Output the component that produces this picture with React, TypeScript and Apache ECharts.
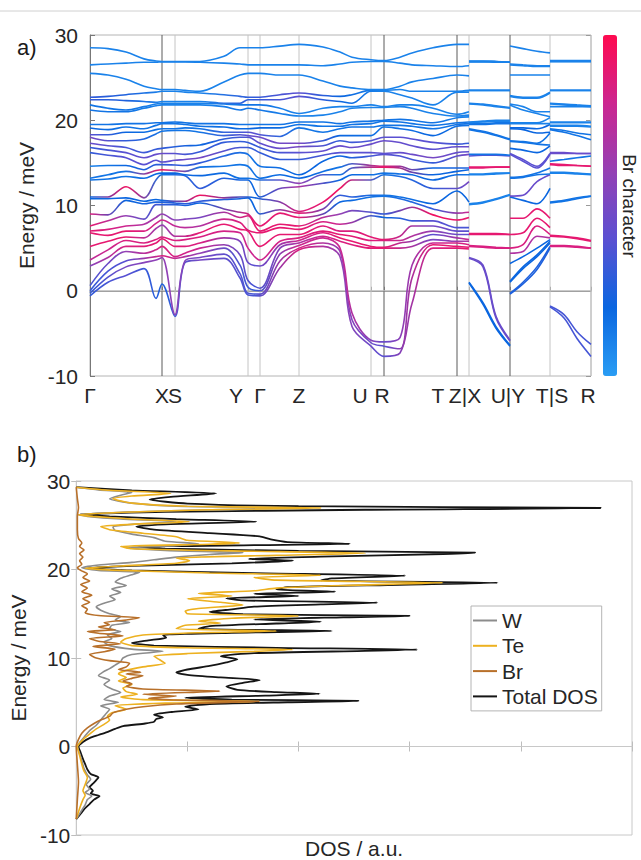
import React, { useEffect, useRef } from 'react';
import * as echarts from 'echarts';

// ---------- Band structure (top panel) ----------
// k-path positions (arbitrary distance units, Γ = 0)
const kNodesP1 = [0, 18, 36, 54, 66, 72, 85, 95, 110, 134, 150, 158, 170, 190, 209, 233, 250, 262, 281, 294, 310, 322, 343, 367, 379];
const kNodesP2 = [379, 393, 406, 420];
const kNodesP3 = [420, 433, 447, 460];
const kNodesP4 = [460, 474, 487, 501];

// energies (meV) of the 30 branches at each k node, sorted
const bandsP1: number[][] = [
  [-0.6, -0.3, 0.0, 0.6, 2.9, 3.6, 5.2, 6.8, 7.0, 7.6, 9.0, 10.8, 11.0, 13.0, 13.2, 14.6, 16.2, 16.8, 17.3, 18.0, 18.3, 19.1, 19.5, 21.2, 21.8, 22.4, 22.7, 25.5, 26.5, 28.5],
  [1.0, 1.6, 2.3, 3.2, 3.9, 4.8, 5.8, 6.5, 7.2, 8.2, 8.9, 10.8, 11.0, 13.1, 13.6, 14.7, 15.9, 16.5, 17.0, 17.6, 18.3, 18.9, 19.5, 21.0, 21.4, 22.4, 22.8, 25.3, 26.6, 28.4],
  [1.8, 2.8, 3.5, 4.6, 5.2, 5.9, 6.3, 7.0, 7.6, 8.8, 10.6, 10.9, 12.2, 13.4, 14.0, 14.7, 15.6, 16.2, 16.8, 17.6, 18.6, 19.2, 19.6, 21.0, 21.2, 22.3, 23.0, 24.8, 26.7, 28.0],
  [2.6, 3.3, 3.8, 4.4, 5.2, 5.6, 6.2, 7.0, 7.8, 8.4, 10.2, 10.5, 10.9, 13.2, 13.7, 14.2, 14.8, 15.6, 16.2, 17.8, 18.6, 19.0, 19.6, 21.4, 21.6, 22.2, 23.2, 24.0, 26.8, 27.2],
  [-0.9, 3.6, 4.0, 4.8, 5.6, 6.0, 7.3, 7.9, 8.6, 10.1, 10.4, 10.7, 13.0, 13.7, 14.1, 14.8, 15.3, 16.0, 16.6, 18.4, 18.9, 19.4, 19.7, 21.7, 21.9, 22.1, 23.3, 23.7, 26.8, 26.95],
  [0.8, 3.9, 4.1, 5.2, 6.1, 6.3, 7.7, 8.3, 9.0, 10.1, 10.4, 10.6, 13.6, 13.8, 14.2, 14.8, 15.1, 16.1, 16.7, 18.7, 19.0, 19.6, 19.7, 21.8, 22.0, 22.2, 23.4, 23.6, 26.85, 26.9],
  [-3.0, -2.8, 3.8, 4.0, 5.2, 5.9, 6.4, 7.6, 8.3, 10.1, 10.3, 10.5, 13.6, 13.8, 14.1, 14.75, 15.3, 16.1, 16.9, 18.8, 19.0, 19.6, 19.8, 21.8, 22.0, 22.2, 23.4, 23.6, 26.85, 26.9],
  [3.3, 3.5, 4.0, 4.4, 5.2, 6.0, 6.4, 7.4, 8.4, 10.0, 10.2, 10.5, 13.5, 13.6, 14.0, 14.7, 15.4, 16.0, 17.0, 18.8, 19.1, 19.5, 19.7, 21.8, 22.0, 22.2, 23.3, 23.5, 26.85, 26.9],
  [3.6, 3.9, 4.4, 5.0, 5.6, 6.3, 6.8, 7.6, 8.6, 10.3, 10.5, 11.2, 12.0, 13.5, 14.5, 15.0, 15.6, 16.3, 17.1, 18.6, 19.0, 19.3, 19.6, 21.8, 22.0, 22.2, 23.2, 23.4, 26.8, 26.9],
  [3.8, 4.3, 5.0, 5.4, 6.2, 7.0, 7.8, 8.4, 9.2, 9.6, 10.7, 10.9, 13.2, 13.8, 14.6, 15.8, 16.4, 17.4, 17.8, 18.2, 18.6, 19.2, 19.6, 21.6, 21.9, 22.0, 23.0, 24.5, 26.7, 27.5],
  [1.5, 2.0, 3.0, 4.2, 5.8, 6.8, 7.2, 8.0, 8.6, 9.2, 10.8, 11.0, 13.0, 13.2, 14.8, 16.2, 16.8, 17.5, 18.0, 18.3, 18.6, 19.0, 19.5, 21.2, 21.8, 22.0, 22.8, 25.3, 26.6, 28.5],
  [-0.5, -0.3, 0.4, 1.2, 3.3, 5.0, 7.0, 7.1, 8.8, 9.0, 10.9, 11.0, 13.0, 13.2, 14.6, 16.0, 16.8, 17.4, 18.0, 18.2, 18.6, 19.0, 19.5, 21.4, 21.8, 22.4, 22.7, 25.5, 26.5, 28.5],
  [-0.6, -0.4, 0.0, 0.3, 2.9, 3.6, 5.2, 6.8, 7.0, 7.6, 9.0, 10.8, 11.0, 13.0, 13.2, 14.6, 16.2, 16.8, 17.3, 18.0, 18.3, 19.1, 19.5, 21.2, 21.8, 22.4, 22.7, 25.5, 26.5, 28.5],
  [2.7, 3.5, 4.3, 5.0, 5.4, 5.8, 6.6, 7.4, 7.8, 9.1, 9.5, 10.4, 12.0, 13.0, 13.6, 14.4, 15.4, 16.2, 16.7, 17.3, 18.1, 19.1, 19.5, 20.8, 21.4, 22.4, 23.0, 25.3, 26.5, 28.7],
  [4.8, 5.0, 5.3, 5.6, 5.9, 6.2, 6.6, 7.2, 7.6, 8.6, 9.1, 9.3, 12.2, 12.6, 13.2, 13.6, 15.4, 16.2, 16.9, 17.3, 19.1, 19.5, 19.8, 20.5, 20.8, 22.8, 23.2, 25.3, 26.5, 28.9],
  [5.2, 5.6, 6.2, 6.4, 6.8, 7.0, 7.6, 8.1, 8.6, 9.0, 9.6, 10.4, 12.6, 13.6, 14.0, 15.2, 15.9, 16.4, 17.0, 17.6, 18.6, 19.3, 19.8, 20.6, 21.4, 22.4, 22.9, 24.6, 26.4, 28.6],
  [4.0, 4.6, 5.0, 5.8, 6.2, 6.6, 7.0, 7.8, 9.0, 10.4, 11.2, 12.0, 13.0, 13.6, 14.5, 15.8, 16.2, 17.0, 17.6, 18.2, 19.0, 19.3, 19.6, 21.0, 21.6, 22.2, 22.8, 24.0, 26.6, 28.0],
  [-4.2, -3.4, -2.6, 5.4, 5.8, 6.4, 7.0, 8.0, 9.4, 10.6, 11.0, 13.0, 13.6, 14.4, 14.9, 15.6, 16.2, 16.8, 17.4, 18.2, 19.2, 19.5, 19.8, 21.4, 21.6, 22.0, 23.0, 23.8, 26.8, 27.4],
  [-6.5, -6.1, -5.8, 5.0, 5.2, 5.9, 6.3, 8.8, 9.2, 11.0, 11.2, 13.0, 13.6, 14.5, 14.7, 15.8, 16.2, 17.2, 17.6, 18.2, 19.2, 19.6, 19.9, 21.5, 21.8, 23.4, 23.5, 23.6, 26.9, 27.1],
  [-7.7, -6.5, -6.0, 5.0, 5.1, 5.9, 6.0, 8.6, 9.0, 11.1, 11.2, 13.6, 13.8, 14.5, 14.6, 16.0, 16.1, 17.6, 18.0, 19.2, 19.4, 19.9, 20.0, 21.5, 21.6, 23.4, 23.5, 23.6, 26.9, 27.0],
  [-7.3, -6.8, -5.5, 5.0, 5.6, 5.9, 6.4, 8.5, 9.4, 10.8, 11.0, 13.4, 13.7, 14.4, 14.6, 15.8, 16.2, 17.4, 18.0, 19.0, 19.4, 19.8, 20.1, 21.6, 21.8, 23.0, 23.6, 24.0, 26.7, 27.4],
  [-1.5, 1.5, 3.0, 5.2, 5.8, 6.4, 7.6, 8.2, 9.8, 10.4, 10.7, 13.0, 13.6, 13.9, 14.2, 15.4, 16.0, 17.0, 17.8, 18.8, 19.3, 19.6, 20.0, 21.4, 21.8, 22.6, 23.4, 24.5, 26.5, 27.9],
  [5.0, 5.4, 5.6, 6.0, 6.6, 7.0, 7.6, 8.2, 8.9, 9.6, 10.2, 12.0, 13.0, 13.6, 14.4, 15.0, 15.6, 16.6, 17.4, 18.2, 19.0, 19.4, 19.7, 20.8, 21.4, 21.8, 23.4, 24.9, 26.4, 28.5],
  [5.0, 5.2, 5.6, 5.8, 6.2, 6.6, 7.0, 7.4, 8.3, 9.1, 11.7, 12.0, 13.6, 14.0, 14.4, 15.8, 16.2, 16.9, 17.2, 19.3, 19.5, 19.7, 20.3, 20.5, 20.7, 23.3, 23.4, 25.3, 26.3, 28.9],
  [4.9, 5.1, 5.4, 5.8, 6.0, 6.6, 7.0, 7.4, 8.6, 9.2, 10.4, 12.8, 13.6, 14.2, 14.4, 16.0, 16.3, 16.9, 17.3, 19.4, 19.6, 19.8, 20.4, 20.6, 21.0, 23.3, 23.5, 25.2, 26.4, 28.9],
];
const bandsP2: number[][] = [
  [0.9, 1.0, 3.8, 3.9, 5.2, 5.3, 6.6, 6.7, 10.1, 10.2, 13.6, 13.7, 14.4, 14.5, 15.8, 16.0, 18.9, 19.0, 19.5, 19.6, 19.7, 19.8, 21.9, 22.0, 23.5, 23.5, 26.85, 26.9, 26.9, 26.95],
  [-1.6, -1.4, 2.8, 3.0, 5.1, 5.2, 6.6, 6.7, 10.3, 10.4, 13.6, 13.7, 14.4, 14.5, 15.9, 16.0, 18.6, 18.7, 19.5, 19.6, 19.8, 19.9, 21.8, 21.9, 23.5, 23.5, 26.85, 26.9, 26.9, 26.95],
  [-4.4, -4.2, -3.2, -3.0, 5.0, 5.1, 6.6, 6.7, 10.7, 10.8, 13.7, 13.8, 14.5, 14.5, 15.9, 16.0, 18.2, 18.3, 19.6, 19.7, 19.9, 20.0, 21.6, 21.7, 23.5, 23.5, 26.8, 26.85, 26.9, 26.9],
  [-6.5, -6.4, -5.9, -5.8, 5.0, 5.0, 6.6, 6.6, 11.2, 11.3, 13.8, 13.8, 14.5, 14.5, 15.8, 15.9, 17.7, 17.8, 19.6, 19.7, 19.9, 20.0, 21.4, 21.5, 23.5, 23.5, 26.8, 26.8, 26.8, 26.8],
];
const bandsP3: number[][] = [
  [-0.4, -0.3, 1.0, 1.1, 3.2, 4.4, 5.0, 6.6, 8.5, 11.0, 11.1, 13.2, 13.3, 16.0, 16.1, 16.7, 17.5, 17.6, 19.0, 19.1, 19.6, 19.7, 21.8, 21.9, 22.8, 22.9, 25.3, 26.5, 26.6, 28.7],
  [0.8, 1.0, 2.6, 2.8, 4.0, 4.6, 5.4, 6.8, 8.5, 10.6, 11.2, 13.3, 13.4, 15.2, 15.4, 16.5, 17.4, 17.5, 18.9, 19.1, 19.6, 19.7, 21.2, 21.6, 22.6, 22.7, 25.3, 26.4, 26.5, 28.4],
  [2.5, 2.8, 4.0, 4.2, 5.0, 6.4, 7.6, 8.5, 9.6, 10.2, 12.8, 13.6, 13.8, 14.4, 14.6, 16.2, 17.2, 17.3, 18.5, 19.0, 19.6, 19.7, 20.8, 21.0, 22.6, 22.7, 25.3, 26.3, 26.4, 28.1],
  [5.0, 5.2, 5.6, 5.8, 6.0, 6.2, 6.6, 7.4, 8.5, 12.0, 13.6, 13.7, 14.4, 16.0, 16.1, 17.0, 17.1, 18.5, 18.6, 19.5, 19.6, 20.3, 20.4, 21.0, 23.2, 23.3, 25.3, 26.3, 26.4, 27.9],
];
const bandsP4: number[][] = [
  [-1.9, -1.8, 5.2, 5.3, 6.4, 6.5, 10.3, 10.4, 13.8, 13.9, 14.8, 14.9, 15.2, 16.1, 16.2, 18.9, 19.0, 19.3, 19.4, 19.7, 19.8, 21.6, 21.9, 22.0, 23.5, 23.5, 26.9, 26.9, 26.9, 27.0],
  [-3.2, -2.8, 5.2, 5.3, 6.3, 6.4, 10.5, 10.6, 13.8, 13.9, 14.7, 14.8, 15.4, 16.1, 16.2, 18.6, 18.8, 19.3, 19.4, 19.7, 19.8, 21.6, 21.8, 21.9, 23.5, 23.5, 26.9, 26.9, 26.9, 27.0],
  [-5.6, -4.8, 5.1, 5.2, 6.1, 6.2, 10.8, 10.9, 13.7, 13.8, 14.7, 14.7, 15.6, 16.1, 16.1, 18.2, 18.5, 19.3, 19.4, 19.7, 19.8, 21.6, 21.7, 21.8, 23.5, 23.5, 26.9, 26.9, 26.9, 27.0],
  [-7.7, -6.3, 5.0, 5.0, 5.8, 5.9, 11.1, 11.1, 13.6, 13.7, 14.6, 14.6, 15.8, 16.1, 16.1, 17.7, 18.3, 19.2, 19.3, 19.7, 19.8, 21.6, 21.6, 21.7, 23.5, 23.5, 26.9, 26.9, 26.9, 27.0],
];

// Br character (0 = none, 1 = pure Br) of the 30 branches at anchor k positions of the first path piece
const brAnchorsP1 = [0, 36, 72, 110, 164, 209, 250, 294, 343, 379];
const brP1: number[][] = [
  [0.3, 0.3, 0.3, 0.35, 0.55, 0.75, 0.9, 0.9, 0.9, 0.9, 0.85, 0.2, 0.2, 0.15, 0.15, 0.1, 0.3, 0.3, 0.45, 0.5, 0.4, 0.2, 0.15, 0.15, 0.15, 0.3, 0.3, 0.1, 0.1, 0.1],
  [0.4, 0.5, 0.4, 0.6, 0.85, 0.85, 0.9, 0.9, 0.8, 0.6, 0.2, 0.2, 0.95, 0.15, 0.15, 0.2, 0.4, 0.4, 0.35, 0.3, 0.2, 0.15, 0.15, 0.15, 0.15, 0.25, 0.25, 0.1, 0.1, 0.1],
  [0.25, 0.6, 0.85, 0.85, 0.9, 0.85, 0.6, 0.8, 0.6, 0.3, 0.25, 0.2, 0.15, 0.2, 0.95, 0.3, 0.4, 0.45, 0.3, 0.15, 0.15, 0.15, 0.15, 0.1, 0.1, 0.1, 0.1, 0.1, 0.1, 0.1],
  [0.5, 0.5, 0.6, 0.8, 0.85, 0.85, 0.9, 0.7, 0.5, 0.2, 0.3, 0.95, 0.3, 0.2, 0.15, 0.3, 0.5, 0.3, 0.2, 0.15, 0.15, 0.15, 0.15, 0.1, 0.1, 0.1, 0.1, 0.1, 0.1, 0.1],
  [0.35, 0.35, 0.3, 0.35, 0.4, 0.8, 0.9, 0.9, 0.9, 0.9, 0.2, 0.2, 0.2, 0.15, 0.15, 0.15, 0.3, 0.3, 0.4, 0.45, 0.4, 0.2, 0.15, 0.15, 0.15, 0.3, 0.3, 0.1, 0.1, 0.1],
  [0.85, 0.85, 0.8, 0.7, 0.8, 0.85, 0.9, 0.9, 0.9, 0.9, 0.9, 0.85, 0.7, 0.6, 0.2, 0.2, 0.3, 0.4, 0.5, 0.5, 0.15, 0.15, 0.15, 0.1, 0.1, 0.4, 0.4, 0.1, 0.1, 0.1],
  [0.6, 0.6, 0.8, 0.85, 0.9, 0.9, 0.85, 0.8, 0.6, 0.2, 0.3, 0.95, 0.2, 0.15, 0.15, 0.2, 0.4, 0.45, 0.3, 0.2, 0.15, 0.15, 0.15, 0.1, 0.1, 0.2, 0.2, 0.1, 0.1, 0.1],
  [0.4, 0.4, 0.45, 0.9, 0.9, 0.85, 0.9, 0.2, 0.3, 0.15, 0.15, 0.15, 0.15, 0.95, 0.9, 0.4, 0.4, 0.45, 0.4, 0.15, 0.15, 0.15, 0.15, 0.1, 0.1, 0.1, 0.1, 0.1, 0.1, 0.1],
  [0.85, 0.9, 0.8, 0.5, 0.4, 0.6, 0.5, 0.4, 0.95, 0.3, 0.2, 0.3, 0.2, 0.2, 0.2, 0.3, 0.5, 0.4, 0.4, 0.2, 0.15, 0.15, 0.15, 0.1, 0.1, 0.1, 0.1, 0.1, 0.1, 0.1],
  [0.9, 0.9, 0.85, 0.7, 0.8, 0.4, 0.4, 0.35, 0.9, 0.8, 0.2, 0.5, 0.15, 0.2, 0.25, 0.5, 0.4, 0.45, 0.3, 0.15, 0.15, 0.15, 0.1, 0.1, 0.1, 0.1, 0.1, 0.1, 0.1, 0.1],
];
const brP2 = [0.2, 0.2, 0.45, 0.45, 0.85, 0.85, 0.9, 0.9, 0.1, 0.1, 0.1, 0.1, 0.9, 0.9, 0.4, 0.15, 0.15, 0.15, 0.15, 0.15, 0.1, 0.1, 0.1, 0.1, 0.1, 0.1, 0.1, 0.1, 0.1, 0.1];
const brP3 = [0.25, 0.25, 0.2, 0.2, 0.2, 0.7, 0.85, 0.9, 0.9, 0.2, 0.45, 0.15, 0.15, 0.4, 0.4, 0.2, 0.15, 0.15, 0.2, 0.2, 0.1, 0.1, 0.1, 0.1, 0.1, 0.1, 0.1, 0.1, 0.1, 0.1];
const brP4 = [0.35, 0.35, 0.85, 0.85, 0.9, 0.9, 0.15, 0.15, 0.1, 0.1, 0.9, 0.9, 0.15, 0.45, 0.45, 0.15, 0.15, 0.1, 0.1, 0.1, 0.1, 0.1, 0.1, 0.1, 0.1, 0.1, 0.1, 0.1, 0.1, 0.1];

const brColors = ['#2a9df4', '#0a66e0', '#5a50d2', '#9440b4', '#cc2690', '#ff0a50'];

// high-symmetry points
const kLines = [72, 85, 158, 170, 209, 281, 294, 367, 379, 420, 460, 501];
const kLineDark = [true, false, false, false, false, false, true, true, false, true, false, false];
const kLabelPos = [0, 72, 85, 146, 170, 209, 270, 292, 348, 375, 418, 462, 498];
const kLabelText = ['Γ', 'X', 'S', 'Y', 'Γ', 'Z', 'U', 'R', 'T', 'Z|X', 'U|Y', 'T|S', 'R'];

// ---------- DOS (bottom panel): [energy meV, DOS a.u.] ----------
const totalDOS: number[][] = [
  [-8.2, 0], [-7.6, 0.04], [-7.1, 0.07], [-6.5, 0.12], [-6.0, 0.16], [-5.6, 0.21], [-5.3, 0.13], [-5.0, 0.15], [-4.6, 0.12], [-4.2, 0.15], [-3.8, 0.18], [-3.5, 0.2], [-3.1, 0.13], [-2.6, 0.1], [-2.0, 0.08], [-1.4, 0.06], [-0.7, 0.04], [0, 0.02],
  [0.5, 0.06], [0.95, 0.12], [1.3, 0.2], [1.6, 0.27], [2.0, 0.35], [2.3, 0.42], [2.6, 0.62], [2.8, 0.7], [3.1, 0.72], [3.3, 0.78], [3.6, 0.7], [3.9, 0.86], [4.2, 1.1], [4.5, 0.98], [4.8, 1.2], [5.0, 1.9], [5.15, 2.54], [5.3, 1.4], [5.5, 0.98],
  [5.75, 1.7], [5.95, 2.19], [6.15, 1.8], [6.4, 1.45], [6.8, 1.35], [7.2, 1.5], [7.5, 1.65], [7.8, 1.3], [8.1, 1.0], [8.35, 0.9], [8.7, 1.0], [9.1, 1.2], [9.5, 1.35], [9.85, 1.45], [10.2, 1.3], [10.55, 1.6], [10.8, 2.6], [10.95, 3.07],
  [11.15, 1.8], [11.4, 0.7], [11.7, 0.5], [12.0, 0.65], [12.3, 0.81], [12.6, 0.78], [12.85, 1.4], [13.05, 2.3], [13.3, 1.1], [13.6, 1.2], [13.9, 1.8], [14.1, 2.2], [14.35, 1.6], [14.6, 2.4], [14.75, 3.0], [14.95, 1.5], [15.2, 1.2],
  [15.5, 1.4], [15.8, 1.6], [16.05, 2.2], [16.25, 2.71], [16.5, 1.5], [16.75, 1.35], [17.0, 2.0], [17.25, 1.6], [17.5, 2.33], [17.75, 1.8], [18.0, 1.9], [18.25, 2.8], [18.5, 3.79], [18.75, 2.2], [19.0, 2.3], [19.3, 2.96], [19.6, 1.6],
  [19.9, 0.5], [20.15, 0.1], [20.4, 0.5], [20.7, 1.4], [21.0, 1.95], [21.2, 1.55], [21.45, 2.2], [21.75, 3.3], [21.9, 3.59], [22.1, 2.0], [22.35, 0.8], [22.55, 0.56], [22.75, 1.6], [22.9, 2.46], [23.1, 1.9], [23.4, 1.75], [23.75, 1.65],
  [24.1, 1.2], [24.5, 0.7], [24.85, 0.54], [25.1, 0.8], [25.4, 1.62], [25.7, 0.9], [26.0, 0.3], [26.2, 0.03], [26.5, 0.8], [26.75, 2.6], [26.95, 4.72], [27.15, 2.0], [27.45, 1.0], [27.9, 0.66], [28.2, 0.85], [28.6, 1.26], [28.95, 0.5], [29.3, 0],
];
const teDOS: number[][] = [
  [-8.2, 0], [-7, 0.03], [-6, 0.06], [-5.5, 0.08], [-5, 0.06], [-4.3, 0.08], [-3.5, 0.1], [-2.8, 0.07], [-2, 0.05], [-1, 0.03], [0, 0.01], [0.5, 0.04], [1, 0.08], [1.5, 0.13], [2, 0.18], [2.5, 0.25], [3, 0.3], [3.4, 0.28], [3.8, 0.32],
  [4.2, 0.45], [4.6, 0.35], [4.9, 0.8], [5.1, 1.65], [5.3, 0.6], [5.6, 0.4], [5.9, 0.55], [6.2, 0.45], [6.6, 0.42], [7.0, 0.5], [7.4, 0.38], [7.8, 0.45], [8.2, 0.38], [8.6, 0.45], [9.0, 0.6], [9.4, 0.8], [9.8, 0.75], [10.2, 0.7],
  [10.5, 1.0], [10.75, 1.6], [10.95, 1.95], [11.15, 1.0], [11.4, 0.5], [11.8, 0.4], [12.2, 0.45], [12.6, 0.6], [12.85, 1.1], [13.05, 1.8], [13.3, 0.9], [13.7, 0.98], [13.95, 1.3], [14.15, 1.1], [14.5, 1.4], [14.75, 2.0], [15.0, 1.0],
  [15.3, 0.98], [15.6, 1.1], [16.0, 1.5], [16.3, 1.3], [16.7, 1.0], [17.0, 1.4], [17.3, 1.1], [17.6, 1.6], [17.9, 1.8], [18.2, 2.4], [18.5, 3.3], [18.8, 1.8], [19.1, 1.6], [19.35, 2.2], [19.6, 1.2], [19.9, 0.4], [20.15, 0.08],
  [20.4, 0.4], [20.7, 0.9], [21.0, 1.02], [21.3, 0.9], [21.6, 1.8], [21.85, 2.6], [22.1, 1.4], [22.35, 0.5], [22.6, 0.4], [22.85, 1.2], [23.0, 1.47], [23.3, 1.0], [23.7, 0.9], [24.1, 0.6], [24.5, 0.3], [24.85, 0.22], [25.1, 0.5],
  [25.4, 1.02], [25.7, 0.5], [26.0, 0.15], [26.2, 0.02], [26.5, 0.5], [26.75, 1.2], [26.95, 2.2], [27.15, 1.0], [27.5, 0.5], [28.0, 0.33], [28.3, 0.5], [28.6, 0.85], [28.95, 0.3], [29.3, 0],
];
const wDOS: number[][] = [
  [-8.2, 0], [-7.4, 0.04], [-6.6, 0.08], [-6.0, 0.1], [-5.6, 0.14], [-5.2, 0.08], [-4.8, 0.12], [-4.3, 0.09], [-3.7, 0.13], [-3.2, 0.1], [-2.5, 0.07], [-1.6, 0.05], [-0.8, 0.03], [0, 0.01], [0.6, 0.04], [1.2, 0.08], [1.8, 0.12],
  [2.4, 0.18], [3.0, 0.22], [3.6, 0.26], [4.2, 0.3], [4.6, 0.22], [5.0, 0.38], [5.3, 0.25], [5.7, 0.3], [6.1, 0.4], [6.5, 0.32], [7.0, 0.25], [7.5, 0.3], [8.0, 0.2], [8.4, 0.24], [8.8, 0.3], [9.2, 0.35], [9.6, 0.4], [10.0, 0.42],
  [10.4, 0.5], [10.75, 0.78], [11.0, 0.5], [11.4, 0.3], [11.8, 0.25], [12.2, 0.32], [12.6, 0.28], [13.0, 0.4], [13.3, 0.3], [13.7, 0.32], [14.0, 0.48], [14.3, 0.35], [14.7, 0.4], [15.0, 0.3], [15.4, 0.22], [15.8, 0.18], [16.2, 0.25],
  [16.6, 0.35], [17.0, 0.3], [17.4, 0.4], [17.8, 0.32], [18.2, 0.45], [18.6, 0.35], [19.0, 0.4], [19.4, 0.5], [19.7, 0.57], [19.9, 0.2], [20.2, 0.05], [20.5, 0.2], [20.8, 0.5], [21.1, 0.7], [21.4, 0.9], [21.7, 1.2], [21.9, 1.5],
  [22.15, 0.8], [22.45, 0.45], [22.7, 0.9], [22.9, 1.1], [23.2, 0.8], [23.6, 0.7], [24.0, 0.5], [24.4, 0.35], [24.8, 0.33], [25.1, 0.5], [25.4, 0.9], [25.7, 0.4], [26.0, 0.1], [26.2, 0.02], [26.5, 0.5], [26.75, 1.2], [26.95, 2.0],
  [27.15, 0.9], [27.5, 0.5], [28.0, 0.3], [28.4, 0.4], [28.7, 0.5], [29.0, 0.2], [29.3, 0],
];
const brDOS: number[][] = [
  [-8.2, 0], [-6, 0.01], [-4, 0.02], [-2, 0.01], [0, 0.0], [0.8, 0.02], [1.5, 0.05], [2.1, 0.1], [2.6, 0.16], [3.0, 0.22], [3.4, 0.3], [3.8, 0.33], [4.2, 0.45], [4.5, 0.6], [4.8, 0.9], [5.0, 1.4], [5.1, 1.65], [5.25, 0.9],
  [5.45, 0.65], [5.7, 0.9], [5.9, 0.6], [6.25, 1.29], [6.5, 0.6], [6.8, 0.45], [7.1, 0.5], [7.4, 0.42], [7.7, 0.5], [8.0, 0.6], [8.2, 0.45], [8.4, 0.58], [8.7, 0.38], [9.0, 0.45], [9.4, 0.48], [9.7, 0.3], [10.0, 0.18], [10.4, 0.12],
  [10.7, 0.25], [11.0, 0.35], [11.3, 0.15], [11.6, 0.4], [11.9, 0.2], [12.2, 0.12], [12.5, 0.42], [12.8, 0.2], [13.0, 0.1], [13.2, 0.35], [13.5, 0.2], [13.75, 0.3], [14.0, 0.25], [14.3, 0.45], [14.55, 0.57], [14.8, 0.2], [15.1, 0.08],
  [15.5, 0.1], [15.9, 0.05], [16.3, 0.12], [16.7, 0.06], [17.1, 0.14], [17.5, 0.05], [17.9, 0.1], [18.3, 0.04], [18.7, 0.12], [19.1, 0.06], [19.5, 0.1], [19.9, 0.04], [20.2, 0.01], [20.6, 0.05], [21.0, 0.03], [21.4, 0.06], [21.8, 0.03],
  [22.2, 0.07], [22.6, 0.03], [23.0, 0.05], [23.5, 0.02], [24.5, 0.01], [26, 0.01], [27, 0.02], [28, 0.01], [29.3, 0],
];

const FONT = '"Liberation Sans", Arial, Helvetica, sans-serif';

function hexToRgb(h: string) {
  const n = parseInt(h.slice(1), 16);
  return [(n >> 16) & 255, (n >> 8) & 255, n & 255];
}
function brColor(v: number) {
  const t = Math.max(0, Math.min(1, v)) * (brColors.length - 1);
  const i = Math.min(Math.floor(t), brColors.length - 2);
  const f = t - i;
  const a = hexToRgb(brColors[i]);
  const b = hexToRgb(brColors[i + 1]);
  const c = a.map((x, j) => Math.round(x + (b[j] - x) * f));
  return `rgb(${c[0]},${c[1]},${c[2]})`;
}

function buildOption() {
  const series: any[] = [];
  const nb = bandsP1[0].length;

  // high-symmetry vertical lines
  kLines.forEach((k, i) => {
    series.push({
      type: 'line', xAxisIndex: 0, yAxisIndex: 0, silent: true, symbol: 'none', z: 1,
      data: [[k, -10], [k, 30]],
      lineStyle: { color: kLineDark[i] ? '#5a5a5a' : '#c4c4c4', width: 1 },
    });
  });
  series.push({
    type: 'line', xAxisIndex: 0, yAxisIndex: 0, silent: true, symbol: 'none', z: 1,
    data: [[0, 0], [501, 0]], lineStyle: { color: '#b8b8b8', width: 1 },
  });

  const k0 = kNodesP1[0];
  const k1 = kNodesP1[kNodesP1.length - 1];
  for (let b = 0; b < nb; b++) {
    const stops = brAnchorsP1.map((k, j) => ({ offset: (k - k0) / (k1 - k0), color: brColor(brP1[j][b]) }));
    series.push({
      type: 'line', xAxisIndex: 0, yAxisIndex: 0, silent: true, symbol: 'none', z: 3, smooth: 0.35,
      data: kNodesP1.map((k, i) => [k, bandsP1[i][b]]),
      lineStyle: { width: 1.6, color: new echarts.graphic.LinearGradient(0, 0, 1, 0, stops) },
    });
    const pieces: [number[], number[][], number[]][] = [
      [kNodesP2, bandsP2, brP2],
      [kNodesP3, bandsP3, brP3],
      [kNodesP4, bandsP4, brP4],
    ];
    pieces.forEach(([kn, bd, br]) => {
      series.push({
        type: 'line', xAxisIndex: 0, yAxisIndex: 0, silent: true, symbol: 'none', z: 3, smooth: 0.35,
        data: kn.map((k, i) => [k, bd[i][b]]),
        lineStyle: { width: 1.6, color: brColor(br[b]) },
      });
    });
  }

  const dummyIdx = series.length;
  series.push({ type: 'scatter', xAxisIndex: 0, yAxisIndex: 0, data: [], silent: true });

  // DOS panel
  series.push({
    type: 'line', xAxisIndex: 1, yAxisIndex: 2, silent: true, symbol: 'none', z: 1,
    data: [[0, 0], [5, 0]], lineStyle: { color: '#c8c8c8', width: 1 },
  });
  const dosSeries: [string, number[][], string, number][] = [
    ['Total DOS', totalDOS, '#151515', 1.8],
    ['W', wDOS, '#8c8c8c', 1.6],
    ['Te', teDOS, '#EDB120', 1.6],
    ['Br', brDOS, '#B8702A', 1.6],
  ];
  dosSeries.forEach(([name, arr, color, w], i) => {
    series.push({
      name, type: 'line', xAxisIndex: 1, yAxisIndex: 2, silent: true, symbol: 'none', smooth: 0.2, z: 2 + i,
      data: arr.map(([e, d]) => [d, e]),
      lineStyle: { color, width: w }, itemStyle: { color },
    });
  });

  const labelStyle = { fontSize: 21, color: '#262626', fontFamily: FONT };

  return {
    animation: false,
    backgroundColor: '#ffffff',
    grid: [
      { left: 90, top: 35, width: 501, height: 341, show: true, borderColor: '#b4b4b4', borderWidth: 1, backgroundColor: 'transparent' },
      { left: 73, top: 481, width: 559, height: 355, show: true, borderColor: '#c8c8c8', borderWidth: 1, backgroundColor: 'transparent' },
    ],
    xAxis: [
      {
        gridIndex: 0, type: 'value', min: 0, max: 501,
        axisLine: { show: true, lineStyle: { color: '#9a9a9a' } },
        axisTick: { show: true, inside: true, length: 4, customValues: kLines, lineStyle: { color: '#9a9a9a' } },
        axisLabel: {
          ...labelStyle, margin: 9, customValues: kLabelPos,
          formatter: (v: number) => {
            const i = kLabelPos.findIndex((p) => Math.abs(p - v) < 0.01);
            return i >= 0 ? kLabelText[i] : '';
          },
        },
        splitLine: { show: false },
      },
      {
        gridIndex: 1, type: 'value', min: 0, max: 5, interval: 1,
        axisLine: { show: true, lineStyle: { color: '#c8c8c8' } },
        axisTick: { show: true, inside: true, length: 5, lineStyle: { color: '#bdbdbd' } },
        axisLabel: { show: false }, splitLine: { show: false },
        name: 'DOS / a.u.', nameLocation: 'middle', nameGap: 3,
        nameTextStyle: { ...labelStyle, verticalAlign: 'top' },
      },
      {
        gridIndex: 1, type: 'value', position: 'top', min: 0, max: 5, interval: 1,
        axisLine: { show: false },
        axisTick: { show: true, inside: true, length: 5, lineStyle: { color: '#bdbdbd' } },
        axisLabel: { show: false }, splitLine: { show: false },
      },
    ],
    yAxis: [
      {
        gridIndex: 0, type: 'value', min: -10, max: 30, interval: 10,
        axisLine: { show: true, lineStyle: { color: '#777777' } },
        axisTick: { show: true, inside: true, length: 5, lineStyle: { color: '#777777' } },
        axisLabel: { ...labelStyle, margin: 12 }, splitLine: { show: false },
        name: 'Energy / meV', nameLocation: 'middle', nameGap: 48, nameTextStyle: labelStyle,
      },
      {
        gridIndex: 0, type: 'value', position: 'right', min: -10, max: 30, interval: 10,
        axisLine: { show: false },
        axisTick: { show: true, inside: true, length: 5, lineStyle: { color: '#9a9a9a' } },
        axisLabel: { show: false }, splitLine: { show: false },
      },
      {
        gridIndex: 1, type: 'value', min: -10, max: 30, interval: 10,
        axisLine: { show: true, lineStyle: { color: '#c8c8c8' } },
        axisTick: { show: true, inside: true, length: 5, lineStyle: { color: '#bdbdbd' } },
        axisLabel: { ...labelStyle, margin: 6 }, splitLine: { show: false },
        name: 'Energy / meV', nameLocation: 'middle', nameGap: 46, nameTextStyle: labelStyle,
      },
      {
        gridIndex: 1, type: 'value', position: 'right', min: -10, max: 30, interval: 10,
        axisLine: { show: false },
        axisTick: { show: true, inside: true, length: 5, lineStyle: { color: '#bdbdbd' } },
        axisLabel: { show: false }, splitLine: { show: false },
      },
    ],
    visualMap: {
      type: 'continuous', min: 0, max: 1, seriesIndex: dummyIdx, orient: 'vertical',
      left: 603, top: 35, itemWidth: 14, itemHeight: 341, padding: 0,
      calculable: false, showLabel: false, inRange: { color: brColors },
    },
    legend: {
      data: ['W', 'Te', 'Br', 'Total DOS'], orient: 'vertical', left: 471, top: 606,
      padding: [4, 4, 4, 2], itemGap: 4.3, itemWidth: 24, itemHeight: 2, itemTextGap: 3,
      icon: 'rect',
      borderColor: '#b4b4b4', borderWidth: 1, backgroundColor: '#ffffff',
      textStyle: { fontSize: 21, color: '#262626', fontFamily: FONT, lineHeight: 21 },
      selectedMode: false,
    },
    graphic: [
      { type: 'line', shape: { x1: 0, y1: 11, x2: 641, y2: 11 }, style: { stroke: '#d0d0d0', lineWidth: 1 }, silent: true },
      { type: 'text', left: 17, top: 36, style: { text: 'a)', fontSize: 22, fill: '#1a1a1a', fontFamily: FONT }, silent: true },
      { type: 'text', left: 17, top: 443, style: { text: 'b)', fontSize: 22, fill: '#1a1a1a', fontFamily: FONT }, silent: true },
      {
        type: 'text', x: 629, y: 206, rotation: -Math.PI / 2, silent: true,
        style: { text: 'Br character', fontSize: 19, fill: '#262626', fontFamily: FONT, align: 'center', verticalAlign: 'middle' },
      },
    ],
    series,
  };
}

export default function App() {
  const ref = useRef<HTMLDivElement>(null);
  useEffect(() => {
    if (!ref.current) return;
    const chart = echarts.init(ref.current, undefined, { renderer: 'svg' });
    chart.setOption(buildOption() as any);
    return () => chart.dispose();
  }, []);
  return <div ref={ref} style={{ position: 'fixed', left: 0, top: 0, width: 641, height: 860, background: '#fff' }} />;
}
